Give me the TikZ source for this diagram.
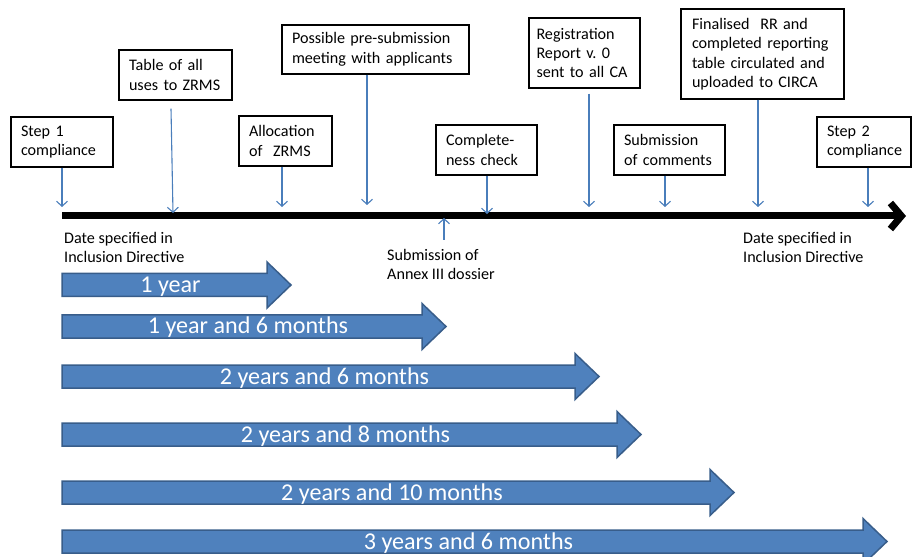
\documentclass[tikz,border=0pt]{standalone}
\usepackage{fontspec}
\setmainfont{Carlito}
\usepackage{tikz}
\usetikzlibrary{arrows.meta}
\definecolor{shaft-blue}{RGB}{79,129,189}
\definecolor{shaft-edge}{RGB}{56,93,138}
\definecolor{tick-blue}{RGB}{74,126,187}
\tikzstyle{stepbox}=[draw=black, line width=1.2bp, align=left, inner xsep=10bp, inner ysep=0bp, font=\fontsize{16.2}{19.5}\selectfont\frenchspacing]
\tikzstyle{note}=[inner sep=0pt, anchor=north west, align=left, font=\fontsize{16.2}{19.5}\selectfont]
\tikzstyle{tick}=[draw=tick-blue, line width=1.1bp, -{Straight Barb[length=5bp,width=11bp]}]
\tikzstyle{periodlabel}=[inner sep=0pt, anchor=base, text=white, font=\fontsize{24.2}{28}\selectfont]
\newcommand{\periodArrow}[4]{
	\draw[fill=shaft-blue, draw=shaft-edge, line width=1.5bp] (62,#2-11.5) -- (#3-24,#2-11.5) -- (#3-24,#2-23) -- (#3,#2) -- (#3-24,#2+23) -- (#3-24,#2+11.5) -- (62,#2+11.5) -- cycle;
	\node[periodlabel] (#1) at ({(62+#3)/2-6},#2+7.5) {#4};
}

\begin{document}
\begin{tikzpicture}[x=1bp,y=-1bp]
	\useasboundingbox (0,0) rectangle (912,557);
	% timeline
	\coordinate (t0) at (62,216);
	\coordinate (t1) at (906,216);
	\draw[line width=7bp, -{Straight Barb[length=11bp,width=26bp]}] (t0) -- (t1);
	% events
	\node[stepbox, text width=82bp, minimum height=50bp] (step1) at (62,142) {Step 1\\compliance};
	\node[stepbox, text width=93bp, minimum height=50bp] (tbl) at (175.5,75) {Table of all\\uses to ZRMS};
	\node[stepbox, text width=73bp, minimum height=50bp] (alloc) at (285.5,141) {Allocation\\of\ \ ZRMS};
	\node[stepbox, text width=167bp, minimum height=49bp] (meet) at (375.5,49.5) {Possible pre-submission\\meeting with applicants};
	\node[stepbox, text width=81bp, minimum height=50bp] (check) at (486.5,150) {Complete-\\ness check};
	\node[stepbox, text width=96bp, inner xsep=7.5bp, minimum height=70bp] (rr0) at (584.5,53) {Registration\\Report v. 0\\sent to all CA};
	\node[stepbox, text width=91bp, minimum height=50bp] (cmts) at (669.5,150) {Submission\\of comments};
	\node[stepbox, text width=141bp, inner xsep=11bp, minimum height=90bp] (circa) at (762.5,54) {Finalised\ \ RR and\\completed reporting\\table circulated and\\uploaded to CIRCA};
	\node[stepbox, text width=74bp, minimum height=50bp] (step2) at (864,142) {Step 2\\compliance};
	\coordinate (e1) at (62,207);
	\coordinate (e2) at (173,213);
	\coordinate (e3) at (282,207);
	\coordinate (e4) at (367,205);
	\coordinate (e5) at (487,214);
	\coordinate (e6) at (589,207);
	\coordinate (e7) at (665,207);
	\coordinate (e8) at (758,207);
	\coordinate (e9) at (868,207);
	\draw[tick] (step1.south) -- (e1);
	\draw[tick] (tbl.south) ++(-4.5,8) -- (e2);
	\draw[tick] (alloc.south -| e3) -- (e3);
	\draw[tick] (meet.south -| e4) -- (e4);
	\draw[tick] (check.south -| e5) -- (e5);
	\draw[tick] (rr0.south -| e6) ++(0,5) -- (e6);
	\draw[tick] (cmts.south -| e7) -- (e7);
	\draw[tick] (circa.south -| e8) -- (e8);
	\draw[tick] (step2.south -| e9) -- (e9);
	% below the line
	\node[note] (start) at (64,232) {Date specified in\\Inclusion Directive};
	\node[note] (annex) at (387,249) {Submission of\\Annex III dossier};
	\node[note] (end) at (743,232) {Date specified in\\Inclusion Directive};
	\coordinate (u1) at (444,218);
	\draw[tick] (annex.north -| u1) ++(0,-9) -- (u1);
	% periods
	\periodArrow{p1}{285}{291}{1 year}
	\periodArrow{p2}{326.5}{446}{1 year and 6 months}
	\periodArrow{p3}{376.5}{599}{2 years and 6 months}
	\periodArrow{p4}{434.5}{641}{2 years and 8 months}
	\periodArrow{p5}{492.5}{734}{2 years and 10 months}
	\periodArrow{p6}{541.5}{887}{3 years and 6 months}
\end{tikzpicture}
\end{document}
